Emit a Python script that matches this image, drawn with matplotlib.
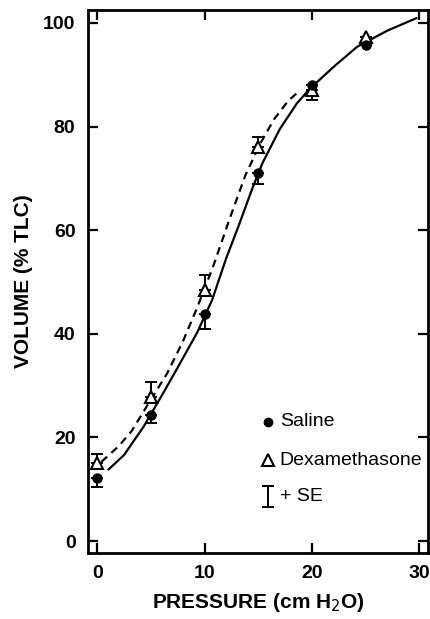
import matplotlib
matplotlib.use("Agg")
import matplotlib.pyplot as plt

# Data
pressure = [0, 5, 10, 15, 20, 25]
saline = [12.2, 24.3, 43.8, 71.0, 88.0, 95.8]
saline_se = [1.8, 1.5, 2.8, 2.0, 2.9, 0.0]      # drawn downward
dexa = [15.0, 27.8, 48.5, 76.0, 87.0, 97.2]
dexa_se = [1.8, 2.9, 2.8, 2.0, 0.0, 0.0]         # drawn upward

# Fitted curves
saline_curve_p = [1.0, 2.5, 4.3, 6.05, 7.5, 9.3, 10.7, 12.0, 13.2, 14.4,
                  15.4, 17.0, 18.6, 19.8, 22.0, 24.2, 27.0, 29.8]
saline_curve_v = [13.7, 16.6, 22.0, 28.2, 33.5, 40.2, 46.5, 54.5, 61.0, 67.8,
                  73.0, 79.5, 84.5, 87.3, 91.5, 95.4, 98.5, 101.0]
dexa_curve_p = [0.4, 2.0, 3.2, 5.0, 6.5, 8.0, 9.3, 10.8, 12.3, 13.8,
                15.2, 16.5, 17.8, 18.9]
dexa_curve_v = [15.3, 18.3, 21.2, 27.3, 32.3, 38.6, 45.0, 53.0, 62.0, 70.6,
                76.8, 81.5, 85.0, 87.0]

xticks = [0, 10, 20, 30]
yticks = [0, 20, 40, 60, 80, 100]

plt.rcParams['font.family'] = ['Liberation Sans', 'DejaVu Sans']

fig = plt.figure(figsize=(4.3, 6.19), dpi=100)
ax = fig.add_axes([88/430, 66/619, 340/430, 543/619])

ax.plot(saline_curve_p, saline_curve_v, color='black', lw=1.6, solid_capstyle='butt')
ax.plot(dexa_curve_p, dexa_curve_v, color='black', lw=1.6, ls=(0, (3.5, 2.5)))

ax.errorbar(pressure, saline, yerr=[saline_se, [0]*len(saline_se)], fmt='none',
            ecolor='black', elinewidth=1.4, capsize=4, capthick=1.4)
ax.errorbar(pressure, dexa, yerr=[[0]*len(dexa_se), dexa_se], fmt='none',
            ecolor='black', elinewidth=1.4, capsize=4, capthick=1.4)
ax.plot(pressure, dexa, ls='none', marker='^', ms=9, mfc='white', mec='black', mew=1.5, zorder=4)
ax.plot(pressure, saline, ls='none', marker='o', ms=6.5, color='black', zorder=5)

# Legend drawn in data coordinates
ax.plot([15.9], [23.0], marker='o', ms=6, color='black', ls='none')
ax.text(17.0, 23.0, 'Saline', fontsize=14, va='center', ha='left')
ax.plot([15.9], [15.6], marker='^', ms=8, mfc='white', mec='black', mew=1.5, ls='none')
ax.text(17.0, 15.6, 'Dexamethasone', fontsize=14, va='center', ha='left')
ax.errorbar([15.9], [6.6], yerr=[[0], [4.0]], fmt='none', ecolor='black',
            elinewidth=1.4, capsize=4, capthick=1.4)
ax.errorbar([15.9], [10.6], yerr=[[0], [0]], fmt='none', ecolor='black',
            elinewidth=1.4, capsize=4, capthick=1.4)
ax.text(17.0, 8.6, '+ SE', fontsize=14, va='center', ha='left')

ax.set_xlim(-0.85, 30.8)
ax.set_ylim(-2.3, 102.5)
ax.set_xticks(xticks)
ax.set_yticks(yticks)
ax.tick_params(direction='in', length=7, width=1.6, top=True, right=True,
               labelsize=14, pad=9)
for lab in ax.get_xticklabels() + ax.get_yticklabels():
    lab.set_fontweight('bold')
for s in ax.spines.values():
    s.set_linewidth(2)

ax.set_xlabel('PRESSURE (cm H$_2$O)', fontsize=15, fontweight='bold', labelpad=6)
ax.set_ylabel('VOLUME (% TLC)', fontsize=15, fontweight='bold', labelpad=7)

fig.savefig('out.png', dpi=100)
